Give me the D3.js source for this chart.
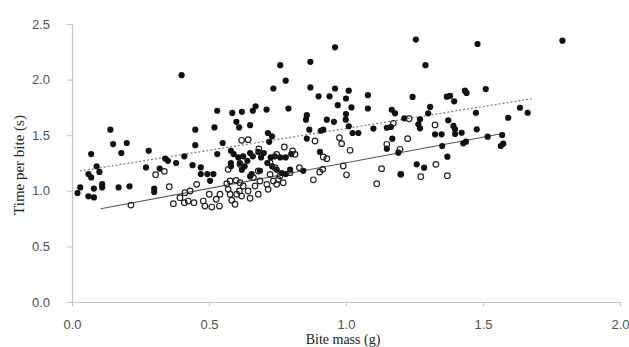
<!DOCTYPE html>
<html>
<head>
<meta charset="utf-8">
<script src="https://cdn.jsdelivr.net/npm/d3@7/dist/d3.min.js"></script>
<style>
  html, body { margin: 0; padding: 0; background: #fff; }
  svg { display: block; }
</style>
</head>
<body>
<svg id="chart" width="629" height="347"></svg>
<script>
// ---- data ----
const xTicks = [0.0, 0.5, 1.0, 1.5, 2.0];
const yTicks = [0.0, 0.5, 1.0, 1.5, 2.0, 2.5];
const xTitle = "Bite mass (g)";
const yTitle = "Time per bite (s)";

// filled circles [bite mass, time per bite]
const filledPoints = [
  [0.14,1.55],[0.15,1.42],[0.20,1.43],[0.18,1.34],[0.07,1.33],[0.28,1.36],[0.09,1.22],
  [0.34,1.29],[0.35,1.27],[0.38,1.25],[0.27,1.21],[0.06,1.15],[0.07,1.12],[0.10,1.17],
  [0.32,1.20],[0.03,1.03],[0.02,0.98],[0.06,0.95],[0.08,0.94],[0.08,1.02],[0.11,1.06],
  [0.11,1.03],[0.17,1.03],[0.21,1.04],[0.30,1.02],[0.30,0.99],[0.40,2.04],
  [0.53,1.72],[0.585,1.70],[0.62,1.71],[0.66,1.72],[0.67,1.76],[0.60,1.62],[0.61,1.57],
  [0.52,1.57],[0.65,1.59],[0.45,1.55],[0.45,1.41],[0.55,1.43],[0.41,1.31],[0.44,1.23],
  [0.47,1.21],[0.53,1.33],[0.58,1.36],[0.59,1.33],[0.71,1.73],[0.625,1.31],[0.68,1.35],
  [0.70,1.34],[0.69,1.30],[0.74,1.31],[0.58,1.25],[0.78,1.30],[0.80,1.33],[0.607,1.30],
  [0.613,1.25],[0.62,1.19],[0.63,1.22],[0.64,1.27],[0.65,1.34],[0.66,1.31],[0.656,1.15],
  [0.725,1.30],[0.76,1.30],[0.73,1.22],[0.747,1.19],[0.765,1.16],[0.78,1.15],[0.796,1.19],
  [0.844,1.18],[0.47,1.15],[0.494,1.15],[0.516,1.15],[0.504,1.09],[0.58,1.22],[0.65,1.13],
  [0.686,1.18],[0.713,1.25],
  [0.96,2.29],[0.76,2.13],[0.87,2.16],[0.78,1.99],[0.735,1.92],[0.87,1.93],[0.90,1.85],
  [0.94,1.85],[0.96,1.92],[1.01,1.90],[1.00,1.83],[1.08,1.86],[0.97,1.77],[1.02,1.75],
  [1.08,1.74],[0.79,1.74],[0.857,1.68],[0.854,1.64],[0.93,1.64],[0.956,1.62],[1.00,1.69],
  [0.999,1.64],[1.01,1.58],[1.10,1.56],[0.866,1.55],[0.908,1.54],[0.917,1.55],[0.715,1.52],
  [0.73,1.49],[0.72,1.44],[0.857,1.47],[1.024,1.52],[1.045,1.52],[0.905,1.35],
  [1.255,2.36],[1.48,2.32],[1.79,2.35],[1.29,2.13],[1.434,1.90],[1.44,1.88],[1.51,1.915],
  [1.243,1.844],[1.368,1.846],[1.38,1.853],[1.395,1.805],[1.167,1.729],[1.179,1.697],
  [1.307,1.754],[1.30,1.697],[1.213,1.652],[1.27,1.643],[1.264,1.598],[1.27,1.562],
  [1.373,1.634],[1.474,1.702],[1.635,1.747],[1.663,1.702],[1.592,1.657],[1.149,1.567],
  [1.164,1.574],[1.392,1.583],[1.398,1.553],[1.398,1.511],[1.422,1.522],[1.477,1.553],
  [1.325,1.508],[1.349,1.508],[1.517,1.487],[1.57,1.502],[1.169,1.469],[1.149,1.379],
  [1.191,1.343],[1.351,1.403],[1.428,1.427],[1.438,1.442],[1.37,1.307],[1.565,1.403],
  [1.574,1.424],[1.258,1.238],[1.285,1.208],[1.20,1.151]
];

// open circles [bite mass, time per bite]
const openPoints = [
  [0.305,1.145],[0.337,1.175],[0.355,1.037],[0.215,0.872],[0.37,0.884],[0.394,0.938],
  [0.619,1.454],[0.643,1.46],[0.412,0.983],[0.431,0.998],[0.424,0.908],[0.445,0.893],
  [0.41,0.893],[0.455,1.058],[0.479,0.908],[0.485,0.863],[0.501,0.969],[0.51,0.854],
  [0.526,0.924],[0.538,0.863],[0.54,0.969],[0.565,1.064],[0.57,1.013],[0.577,1.088],
  [0.599,1.094],[0.613,1.073],[0.625,1.043],[0.577,0.969],[0.583,0.915],[0.595,0.879],
  [0.601,0.969],[0.619,0.953],[0.611,0.998],[0.643,0.998],[0.65,0.933],[0.68,0.969],
  [0.662,1.118],[0.686,1.088],[0.668,1.043],[0.711,1.058],[0.716,1.013],[0.735,1.088],
  [0.747,1.058],[0.753,1.103],[0.771,1.073],[0.723,1.148],[0.759,1.133],[0.68,1.178],
  [0.613,1.238],[0.57,1.193],[0.796,1.163],[0.83,1.208],[0.682,1.376],[0.775,1.394],
  [0.805,1.358],[0.814,1.328],[0.747,1.328],[0.723,1.253],[0.741,1.208],[0.881,1.099],
  [0.904,1.169],[0.915,1.193],[0.887,1.448],[0.976,1.478],[0.984,1.424],[1.015,1.364],
  [0.917,1.304],[0.93,1.289],[0.99,1.223],[1.002,1.144],[1.112,1.064],[1.23,1.648],
  [1.173,1.607],[1.325,1.592],[1.225,1.469],[1.149,1.418],[1.197,1.373],[1.13,1.199],
  [1.328,1.238],[1.20,1.148],[1.273,1.127],[1.37,1.136]
];

// fitted lines: endpoints [x, y]
const solidLine  = [[0.105, 0.839], [1.562, 1.511]];
const dottedLine = [[0.029, 1.178], [1.679, 1.828]];

// ---- drawing ----
const svg = d3.select("#chart");
const x = d3.scaleLinear().domain([0, 2]).range([72, 620]);
const y = d3.scaleLinear().domain([0, 2.5]).range([302, 24]);
const axisColor = "#cbc3bf";
const tickFont = "'Liberation Sans Narrow', 'Liberation Sans', Arial, sans-serif";

svg.append("rect").attr("width", 629).attr("height", 347).attr("fill", "#fff");

// x axis
const gx = svg.append("g").attr("transform", `translate(0,${y(0)})`)
  .call(d3.axisBottom(x).tickValues(xTicks).tickFormat(d3.format(".1f")).tickSizeInner(4).tickSizeOuter(0).tickPadding(14));
gx.select(".domain").attr("stroke", axisColor).attr("stroke-width", 1.2);
gx.selectAll(".tick line").attr("stroke", axisColor);
gx.selectAll(".tick text").attr("fill", "#505050").attr("font-size", 13).attr("font-family", tickFont);

// y axis
const gy = svg.append("g").attr("transform", `translate(${x(0)},0)`)
  .call(d3.axisLeft(y).tickValues(yTicks).tickFormat(d3.format(".1f")).tickSizeInner(5).tickSizeOuter(0).tickPadding(17));
gy.select(".domain").attr("stroke", axisColor).attr("stroke-width", 1.2);
gy.selectAll(".tick line").attr("stroke", axisColor);
gy.selectAll(".tick text").attr("fill", "#505050").attr("font-size", 13).attr("font-family", tickFont);

// titles
svg.append("text").attr("x", 343).attr("y", 344).attr("text-anchor", "middle")
  .attr("font-family", "'Liberation Serif', 'Times New Roman', serif").attr("font-size", 14)
  .attr("fill", "#222").text(xTitle);
svg.append("text").attr("transform", "translate(24,165) rotate(-90)").attr("text-anchor", "middle")
  .attr("font-family", "'Liberation Serif', 'Times New Roman', serif").attr("font-size", 15)
  .attr("fill", "#222").text(yTitle);

// regression lines
const line = d3.line().x(d => x(d[0])).y(d => y(d[1]));
svg.append("path").datum(solidLine).attr("d", line)
  .attr("fill", "none").attr("stroke", "#555").attr("stroke-width", 1.1);
svg.append("path").datum(dottedLine).attr("d", line)
  .attr("fill", "none").attr("stroke", "#777").attr("stroke-width", 1.2).attr("stroke-dasharray", "2,2");

// points
svg.append("g").selectAll("circle").data(filledPoints).join("circle")
  .attr("cx", d => x(d[0])).attr("cy", d => y(d[1])).attr("r", 3.1)
  .attr("fill", "#111");
svg.append("g").selectAll("circle").data(openPoints).join("circle")
  .attr("cx", d => x(d[0])).attr("cy", d => y(d[1])).attr("r", 2.8)
  .attr("fill", "none").attr("stroke", "#222").attr("stroke-width", 1.2);
</script>
</body>
</html>
